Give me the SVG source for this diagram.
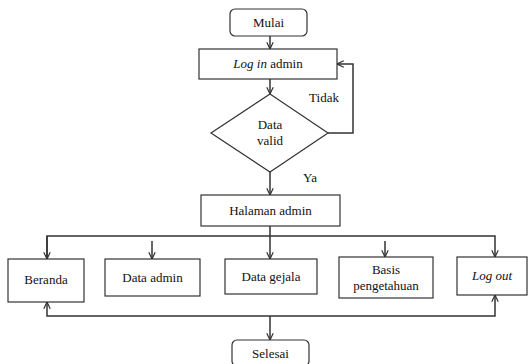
<svg xmlns="http://www.w3.org/2000/svg" width="530" height="364" viewBox="0 0 530 364">
<style>
.box{fill:#fff;stroke:#333;stroke-width:1.2}
.ln{fill:none;stroke:#333;stroke-width:1.5}
text{font-family:'Liberation Serif','DejaVu Serif','Noto Serif',Tinos,'Times New Roman',Times,serif;font-size:13px;fill:#111;text-anchor:middle}
</style>
<defs>
<marker id="ah" viewBox="0 0 10 10" refX="9.5" refY="5" markerWidth="8" markerHeight="8" orient="auto" markerUnits="userSpaceOnUse">
<path d="M1,1 L9.5,5 L1,9" fill="none" stroke="#333" stroke-width="1.5"/>
</marker>
</defs>
<g id="connectors">
<path class="ln" d="M270,36 V49" marker-end="url(#ah)"/>
<path class="ln" d="M270,79 V94" marker-end="url(#ah)"/>
<path class="ln" d="M328,133 H353 V64 H337" marker-end="url(#ah)"/>
<path class="ln" d="M270,172 V195" marker-end="url(#ah)"/>
<path class="ln" d="M270,226 V259" marker-end="url(#ah)"/>
<path class="ln" d="M47,259 V236 H495 V257" marker-end="url(#ah)"/>
<path class="ln" d="M47,236 V259" marker-end="url(#ah)"/>
<path class="ln" d="M152,241 V259" marker-end="url(#ah)"/>
<path class="ln" d="M385,241 V257" marker-end="url(#ah)"/>
<path class="ln" d="M270,316 H47 V302" marker-end="url(#ah)"/>
<path class="ln" d="M270,316 H495 V295" marker-end="url(#ah)"/>
<path class="ln" d="M270,316 V340" marker-end="url(#ah)"/>
<text x="324" y="102">Tidak</text>
<text x="310" y="182">Ya</text>
</g>
<g id="mulai"><rect class="box" x="230" y="9" width="77" height="27" rx="5"/><text x="268.5" y="27">Mulai</text></g>
<g id="login"><rect class="box" x="199" y="49" width="138" height="30"/><text x="268" y="68"><tspan font-style="italic">Log in</tspan> admin</text></g>
<g id="valid"><polygon class="box" points="270,94 328,133 270,172 211,133"/><text x="270" y="129">Data</text><text x="270" y="145">valid</text></g>
<g id="halaman"><rect class="box" x="201" y="195" width="139" height="31"/><text x="270.5" y="215">Halaman admin</text></g>
<g id="beranda"><rect class="box" x="8" y="259" width="76" height="43"/><text x="46" y="284">Beranda</text></g>
<g id="dataadmin"><rect class="box" x="105" y="259" width="95" height="37"/><text x="152.5" y="282">Data admin</text></g>
<g id="datagejala"><rect class="box" x="225" y="259" width="92" height="35"/><text x="271" y="281">Data gejala</text></g>
<g id="basis"><rect class="box" x="339" y="257" width="94" height="41"/><text x="386" y="274">Basis</text><text x="386" y="290">pengetahuan</text></g>
<g id="logout"><rect class="box" x="457" y="257" width="70" height="38"/><text x="492" y="280" font-style="italic">Log out</text></g>
<g id="selesai"><rect class="box" x="232" y="340" width="77" height="26" rx="5"/><text x="270.5" y="358">Selesai</text></g>
</svg>
